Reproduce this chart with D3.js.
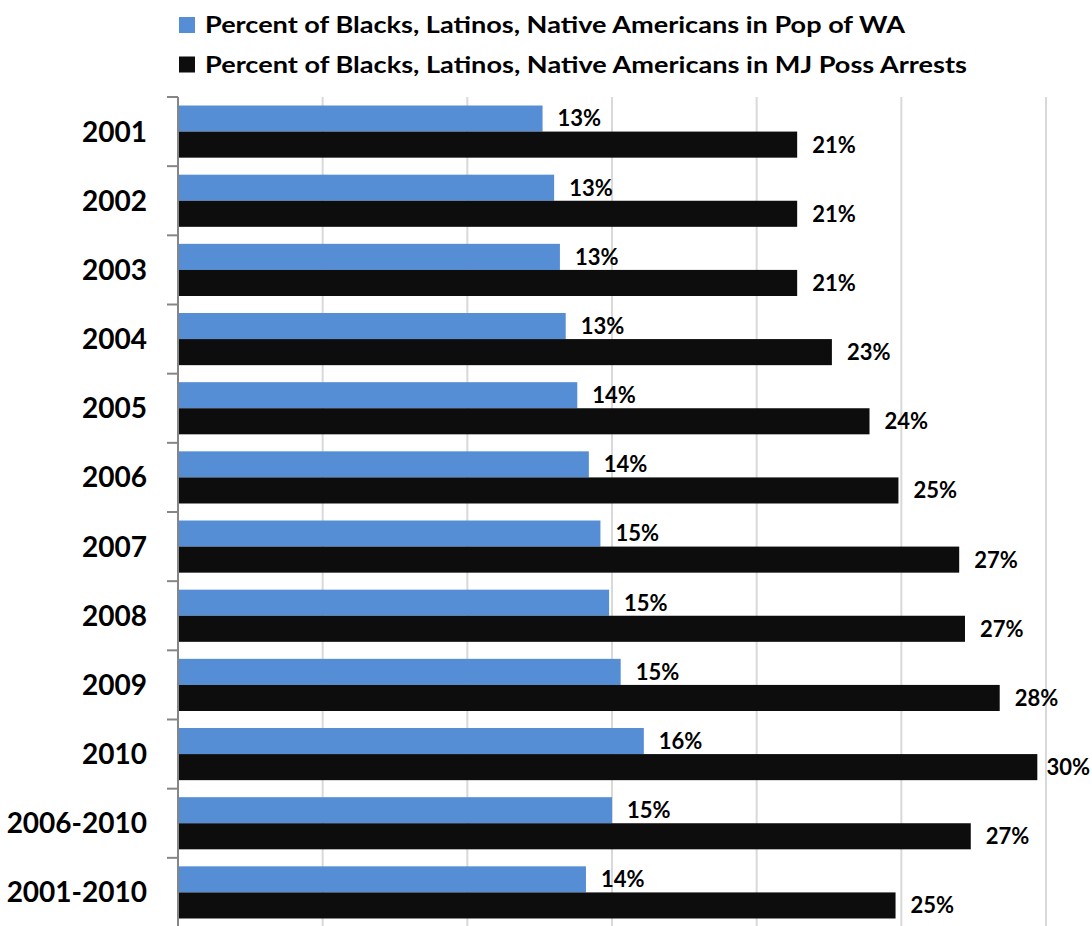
<!DOCTYPE html>
<html>
<head>
<meta charset="utf-8">
<script src="https://cdn.jsdelivr.net/npm/d3@7"></script>
<style>
  html, body { margin: 0; padding: 0; background: #ffffff; }
  svg { display: block; }
  text { font-family: Lato, "Open Sans", sans-serif; font-weight: 700; fill: #000; }
</style>
</head>
<body>
<svg id="chart" width="1092" height="926"></svg>
<script>
// Categories (top to bottom)
const categories = ["2001", "2002", "2003", "2004", "2005", "2006", "2007", "2008", "2009", "2010", "2006-2010", "2001-2010"];

// Share of Blacks, Latinos and Native Americans in Washington's population
const popShare = [0.126, 0.130, 0.132, 0.134, 0.138, 0.142, 0.146, 0.149, 0.153, 0.161, 0.150, 0.141];

// Share of Blacks, Latinos and Native Americans among marijuana possession arrests
const arrestShare = [0.214, 0.214, 0.214, 0.226, 0.239, 0.249, 0.270, 0.272, 0.284, 0.297, 0.274, 0.248];

const seriesNames = [
  "Percent of Blacks, Latinos, Native Americans in Pop of WA",
  "Percent of Blacks, Latinos, Native Americans in MJ Poss Arrests"
];
const seriesColors = ["#558ed5", "#0d0d0d"];

// Gridline values along the value axis
const gridTicks = [0.05, 0.10, 0.15, 0.20, 0.25, 0.30];

const series = [popShare, arrestShare];

const svg = d3.select("#chart");
const margin = { left: 178, right: 46, top: 97, bottom: 0 };
const W = 1092, H = 926;

const x = d3.scaleLinear()
  .domain([0, 0.30])
  .range([margin.left, W - margin.right]);

const y = d3.scaleBand()
  .domain(categories)
  .range([margin.top, H - margin.bottom + 1])
  .paddingInner(0.246)
  .paddingOuter(0.123);

const ySub = d3.scaleBand()
  .domain(d3.range(series.length))
  .range([0, y.bandwidth()]);

// Vertical gridlines
svg.append("g")
  .selectAll("line")
  .data(gridTicks)
  .join("line")
  .attr("x1", d => x(d)).attr("x2", d => x(d))
  .attr("y1", margin.top).attr("y2", H)
  .attr("stroke", "#d9d9d9")
  .attr("stroke-width", 2);

// Bars
series.forEach((vals, si) => {
  svg.append("g")
    .selectAll("rect")
    .data(categories.map((c, i) => ({ c, v: vals[i] })))
    .join("rect")
    .attr("x", x(0))
    .attr("y", d => y(d.c) + ySub(si))
    .attr("width", d => x(d.v) - x(0))
    .attr("height", ySub.bandwidth())
    .attr("fill", seriesColors[si]);
});

// Value labels (kept inside the drawing area near the right edge)
const fmt = d3.format(".0%");
series.forEach((vals, si) => {
  svg.append("g")
    .selectAll("text")
    .data(categories.map((c, i) => ({ c, v: vals[i] })))
    .join("text")
    .attr("y", d => y(d.c) + ySub(si) + ySub.bandwidth() / 2)
    .attr("dy", "0.36em")
    .attr("font-size", 22)
    .text(d => fmt(d.v))
    .attr("x", function (d) {
      const w = this.getComputedTextLength();
      return Math.min(x(d.v) + 15, W - 2 - w);
    });
});

// Category axis with ticks at band boundaries
const axisG = svg.append("g");
axisG.append("line")
  .attr("x1", margin.left).attr("x2", margin.left)
  .attr("y1", margin.top).attr("y2", H)
  .attr("stroke", "#868686").attr("stroke-width", 2);

const step = y.step();
const boundaries = categories.map((c, i) => margin.top + i * step);
axisG.selectAll("line.tick")
  .data(boundaries)
  .join("line")
  .attr("class", "tick")
  .attr("x1", margin.left - 11).attr("x2", margin.left)
  .attr("y1", d => d).attr("y2", d => d)
  .attr("stroke", "#868686").attr("stroke-width", 2);

axisG.selectAll("text")
  .data(categories)
  .join("text")
  .attr("x", 147)
  .attr("y", d => y(d) + y.bandwidth() / 2)
  .attr("dy", "0.36em")
  .attr("text-anchor", "end")
  .attr("font-size", 28)
  .text(d => d);

// Legend
const legendWidths = [700, 762];
const legend = svg.append("g");
seriesNames.forEach((name, i) => {
  const cy = 25 + i * 39.5;
  legend.append("rect")
    .attr("x", 179).attr("y", cy - 8)
    .attr("width", 16).attr("height", 16)
    .attr("fill", seriesColors[i]);
  legend.append("text")
    .attr("x", 205).attr("y", cy)
    .attr("dy", "0.36em")
    .attr("font-size", 23)
    .attr("textLength", legendWidths[i])
    .attr("lengthAdjust", "spacingAndGlyphs")
    .text(name);
});
</script>
</body>
</html>
